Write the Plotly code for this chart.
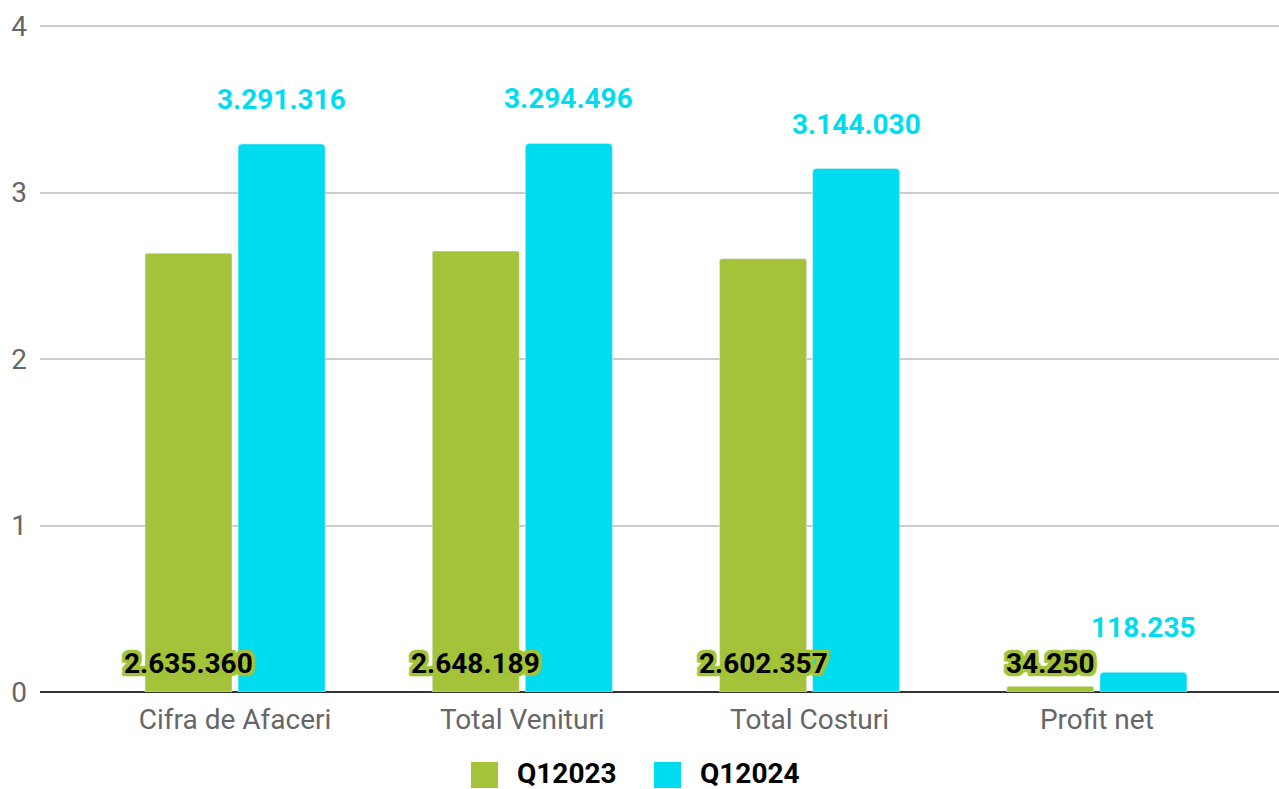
import plotly.graph_objects as go

categories = ["Cifra de Afaceri", "Total Venituri", "Total Costuri", "Profit net"]
q2023_values = [2635360, 2648189, 2602357, 34250]
q2024_values = [3291316, 3294496, 3144030, 118235]
series_names = ["Q12023", "Q12024"]
y_ticks = [0, 1, 2, 3, 4]

GREEN = "#a4c33a"
CYAN = "#00dcef"

def fmt(v):
    return f"{v:,}".replace(",", ".")

scale = 1e6
fig = go.Figure()
fig.add_trace(go.Bar(x=categories, y=[v / scale for v in q2023_values], name=series_names[0],
                     marker=dict(color=GREEN, cornerradius=2), showlegend=False, hoverinfo="skip"))
fig.add_trace(go.Bar(x=categories, y=[v / scale for v in q2024_values], name=series_names[1],
                     marker=dict(color=CYAN, cornerradius=4), showlegend=False, hoverinfo="skip"))

offs = [(dx, dy) for dx in (-3, -2, 0, 2, 3) for dy in (-3, -2, 0, 2, 3) if (dx, dy) != (0, 0)]
shadow = ", ".join(f"{dx}px {dy}px 1px {GREEN}" for dx, dy in offs)
annotations = []
for c, v in zip(categories, q2023_values):
    annotations.append(dict(x=c, y=0, yanchor="bottom", xanchor="center", xshift=-46.5, yshift=10,
                            text=fmt(v), showarrow=False,
                            font=dict(family="Roboto", size=28, color="#000000", weight="bold", shadow=shadow)))
for c, v in zip(categories, q2024_values):
    annotations.append(dict(x=c, y=v / scale, yanchor="bottom", xanchor="center", xshift=46.5, yshift=26,
                            text=fmt(v), showarrow=False,
                            font=dict(family="Roboto", size=28, color=CYAN, weight="bold")))

# manual legend (paper coords: plot x px 40..1279, y px 692 (value 0) .. 21 (top))
PLOT_H = 671
def px_x(p):
    return (p - 40) / 1239
def px_y(p):
    return (692 - p) / PLOT_H

shapes = []
for name, col, sx in [(series_names[0], GREEN, 471), (series_names[1], CYAN, 654)]:
    shapes.append(dict(type="rect", xref="paper", yref="paper", x0=px_x(sx), x1=px_x(sx + 27),
                       y0=px_y(788), y1=px_y(762), fillcolor=col, line=dict(width=0)))
    annotations.append(dict(xref="paper", yref="paper", x=px_x(sx + 44), y=px_y(773), xanchor="left",
                            yanchor="middle", text=name, showarrow=False,
                            font=dict(family="Roboto", size=28, color="#000000", weight="bold")))

fig.update_layout(
    width=1279, height=789,
    margin=dict(l=40, r=0, t=21, b=97),
    paper_bgcolor="white", plot_bgcolor="white",
    barmode="group", bargap=0.352, bargroupgap=0.065,
    font=dict(family="Roboto", size=28, color="#666666"),
    annotations=annotations, shapes=shapes,
    xaxis=dict(range=[-0.679, 3.634], showgrid=False, ticks="", tickfont=dict(size=28, color="#666666"),
               ticklabelstandoff=8),
    yaxis=dict(range=[0, 4.03], tickvals=y_ticks, showgrid=True, gridcolor="#cccccc", gridwidth=1.5,
               zeroline=True, zerolinecolor="#333333", zerolinewidth=2,
               tickfont=dict(size=28, color="#666666"), ticklabelstandoff=12),
)

fig.write_html("out.html", config={"displayModeBar": False},
               post_script="document.body.style.margin='0';")
